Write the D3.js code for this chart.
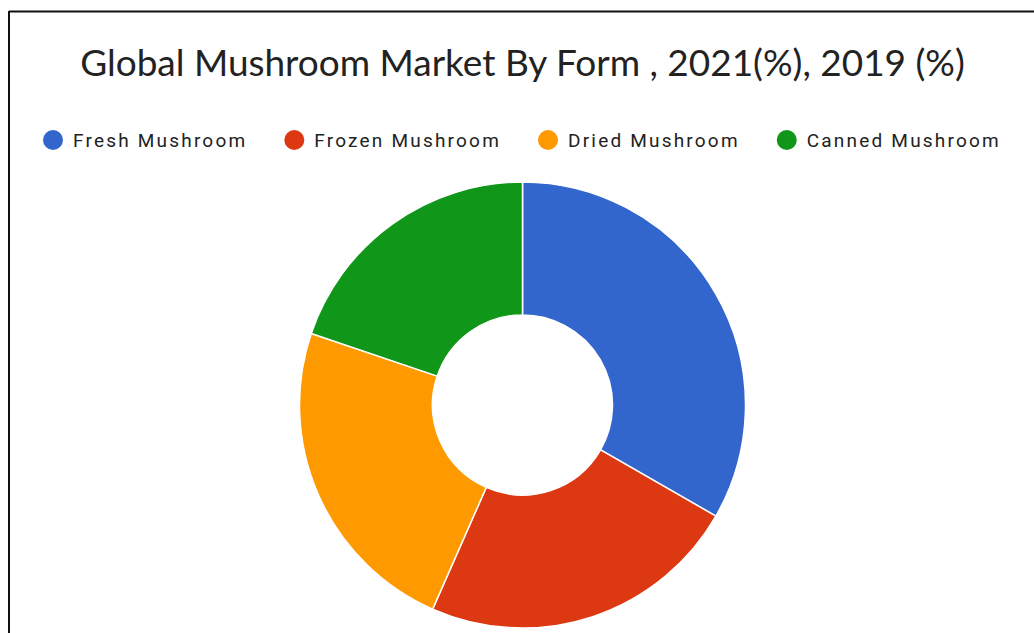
<!DOCTYPE html>
<html>
<head>
<meta charset="utf-8">
<script src="https://cdn.jsdelivr.net/npm/d3@7"></script>
<style>
  body { margin: 0; background: #fff; }
</style>
</head>
<body>
<svg id="chart"></svg>
<script>
/* Data */
const categories = ["Fresh Mushroom", "Frozen Mushroom", "Dried Mushroom", "Canned Mushroom"];
const shares = [33.3, 23.3, 23.6, 19.8];
const colors = ["#3366CC", "#DC3912", "#FF9900", "#109618"];
const titleText = "Global Mushroom Market By Form , 2021(%), 2019 (%)";

/* Dimensions */
const width = 1034;
const height = 633;
const cx = 522.5, cy = 405;
const outerR = 223, innerR = 90;

const svg = d3.select("#chart")
    .attr("width", width)
    .attr("height", height);

/* Frame: top and left lines only are visible */
svg.append("line").attr("x1", 9).attr("y1", 11.5).attr("x2", width).attr("y2", 11.5)
    .attr("stroke", "#111").attr("stroke-width", 2);
svg.append("line").attr("x1", 9).attr("y1", 11).attr("x2", 9).attr("y2", height)
    .attr("stroke", "#111").attr("stroke-width", 2);

/* Title, fitted to the width seen in the reference */
const title = svg.append("text")
    .attr("x", cx)
    .attr("y", 76)
    .attr("text-anchor", "middle")
    .style("font-family", "Lato, 'Open Sans', sans-serif")
    .style("font-size", "32px")
    .style("fill", "#222")
    .text(titleText);
const tw = title.node().getComputedTextLength();
title.style("font-size", (32 * 885 / tw) + "px");

/* Legend */
const legend = svg.append("g").attr("class", "legend");
let lx = 43;
categories.forEach((c, i) => {
    const g = legend.append("g");
    g.append("circle").attr("cx", lx + 10).attr("cy", 140).attr("r", 10).attr("fill", colors[i]);
    const t = g.append("text")
        .attr("x", lx + 30)
        .attr("y", 140)
        .attr("dy", "0.35em")
        .style("font-family", "Roboto, sans-serif")
        .style("font-size", "19px")
        .style("letter-spacing", "2.2px")
        .style("fill", "#222")
        .text(c);
    lx += 30 + t.node().getComputedTextLength() + 37;
});

/* Donut */
const pie = d3.pie().sort(null).value(d => d);
const arc = d3.arc().innerRadius(innerR).outerRadius(outerR);

svg.append("g")
    .attr("transform", `translate(${cx}, ${cy})`)
    .selectAll("path")
    .data(pie(shares))
    .join("path")
      .attr("d", arc)
      .attr("fill", (d, i) => colors[i])
      .attr("stroke", "#fff")
      .attr("stroke-width", 1.5);
</script>
</body>
</html>
